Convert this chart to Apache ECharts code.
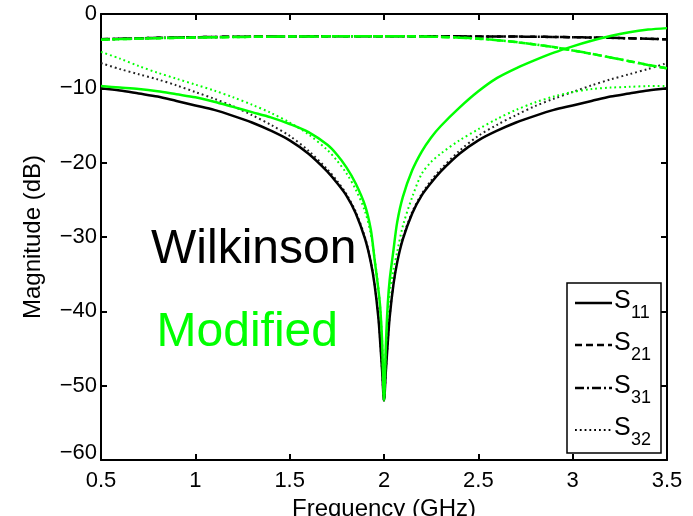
<!DOCTYPE html>
<html><head><meta charset="utf-8">
<script src="https://cdn.jsdelivr.net/npm/echarts@6/dist/echarts.min.js"></script>
<style>html,body{margin:0;padding:0;background:#fff}#c{width:693px;height:516px}</style>
</head><body><div id="c"></div>
<script>
// Frequency samples (GHz)
const freq = [0.5,0.6,0.7,0.8,0.9,1.0,1.1,1.2,1.3,1.4,1.5,1.6,1.7,1.75,1.8,1.85,1.9,1.93,1.95,1.97,1.98,1.99,2.0,
  2.01,2.02,2.03,2.05,2.07,2.1,2.15,2.2,2.25,2.3,2.4,2.5,2.6,2.7,2.8,2.9,3.0,3.1,3.2,3.3,3.4,3.5];

// Wilkinson (black)
const s11Wilkinson = [-10.0,-10.3,-10.7,-11.1,-11.7,-12.3,-12.9,-13.7,-14.6,-15.7,-17.0,-18.8,-21.2,-22.7,-24.4,-26.8,-30.3,-33.4,-36.4,-40.8,-44.2,-48.0,-52.0,
  -48.0,-44.2,-40.8,-36.4,-33.4,-30.3,-26.8,-24.4,-22.7,-21.2,-18.8,-17.0,-15.7,-14.6,-13.7,-12.9,-12.3,-11.7,-11.1,-10.7,-10.3,-10.0];
const s21Wilkinson = [-3.40,-3.33,-3.27,-3.21,-3.16,-3.12,-3.09,-3.06,-3.04,-3.03,-3.02,-3.01,-3.0,-3.0,-3.0,-3.0,-3.0,-3.0,-3.0,-3.0,-3.0,-3.0,-3.0,
  -3.0,-3.0,-3.0,-3.0,-3.0,-3.0,-3.0,-3.0,-3.0,-3.0,-3.01,-3.02,-3.03,-3.04,-3.06,-3.09,-3.12,-3.16,-3.21,-3.27,-3.33,-3.40];
const s31Wilkinson = [-3.40,-3.33,-3.27,-3.21,-3.16,-3.12,-3.09,-3.06,-3.04,-3.03,-3.02,-3.01,-3.0,-3.0,-3.0,-3.0,-3.0,-3.0,-3.0,-3.0,-3.0,-3.0,-3.0,
  -3.0,-3.0,-3.0,-3.0,-3.0,-3.0,-3.0,-3.0,-3.0,-3.0,-3.01,-3.02,-3.03,-3.04,-3.06,-3.09,-3.12,-3.16,-3.21,-3.27,-3.33,-3.40];
const s32Wilkinson = [-6.6,-7.4,-8.1,-8.8,-9.6,-10.5,-11.4,-12.4,-13.6,-14.9,-16.4,-18.4,-20.9,-22.4,-24.2,-26.6,-30.1,-33.3,-36.3,-40.7,-44.1,-48.0,-52.0,
  -48.0,-44.1,-40.7,-36.3,-33.3,-30.1,-26.6,-24.2,-22.4,-20.9,-18.4,-16.4,-14.9,-13.6,-12.4,-11.4,-10.5,-9.6,-8.8,-8.1,-7.4,-6.6];

// Modified (green)
const s11Modified = [-9.7,-9.9,-10.1,-10.4,-10.8,-11.2,-11.8,-12.5,-13.2,-13.9,-14.8,-15.9,-17.6,-18.9,-20.6,-22.8,-25.8,-29.0,-33.0,-37.0,-39.5,-44.0,-52.0,
  -44.5,-39.0,-35.8,-31.8,-28.0,-24.6,-21.0,-18.5,-16.6,-15.1,-12.6,-10.4,-8.6,-7.3,-6.2,-5.2,-4.35,-3.6,-2.95,-2.45,-2.1,-1.9];
const s21Modified = [-3.45,-3.38,-3.32,-3.26,-3.21,-3.17,-3.13,-3.10,-3.07,-3.05,-3.03,-3.02,-3.01,-3.0,-3.0,-3.0,-3.0,-3.0,-3.0,-3.0,-3.0,-3.0,-3.0,
  -3.0,-3.0,-3.0,-3.0,-3.0,-3.0,-3.01,-3.03,-3.05,-3.08,-3.18,-3.32,-3.52,-3.78,-4.10,-4.45,-4.90,-5.35,-5.85,-6.35,-6.85,-7.30];
const s31Modified = [-3.45,-3.38,-3.32,-3.26,-3.21,-3.17,-3.13,-3.10,-3.07,-3.05,-3.03,-3.02,-3.01,-3.0,-3.0,-3.0,-3.0,-3.0,-3.0,-3.0,-3.0,-3.0,-3.0,
  -3.0,-3.0,-3.0,-3.0,-3.0,-3.0,-3.01,-3.03,-3.05,-3.08,-3.18,-3.32,-3.52,-3.78,-4.10,-4.45,-4.90,-5.35,-5.85,-6.35,-6.85,-7.30];
const s32Modified = [-5.1,-6.0,-7.0,-7.9,-8.7,-9.5,-10.3,-11.2,-12.2,-13.3,-14.6,-16.2,-18.3,-19.7,-21.4,-23.6,-26.6,-29.6,-32.8,-36.8,-39.6,-44.0,-52.0,
  -45.0,-40.5,-37.5,-34.5,-32.0,-28.5,-24.6,-21.5,-19.9,-18.8,-17.0,-15.5,-14.1,-12.9,-11.9,-11.1,-10.5,-10.1,-9.9,-9.8,-9.7,-9.7];

const xTicks = [0.5,1,1.5,2,2.5,3,3.5];
const yTicks = [0,-10,-20,-30,-40,-50,-60];
const legendNames = ['11','21','31','32'];

const FONT = '"Liberation Sans", Arial, sans-serif';
const BLACK = '#000000', GREEN = '#00ff00';
const zip = v => freq.map((f, i) => [f, v[i]]);
const DASH = [7, 4], DASHDOT = [9, 3, 2, 3], DOT = [1.8, 3];

function mk(name, vals, color, type, width, z) {
  return { name, type: 'line', data: zip(vals), showSymbol: false, symbol: 'none',
    smooth: 0.3,
    xAxisIndex: 0, yAxisIndex: 0, z: z, animation: false,
    lineStyle: { color, width, type } };
}

const series = [
  mk('S21 W', s21Wilkinson, BLACK, DASH, 2.5, 2),
  mk('S31 W', s31Wilkinson, BLACK, DASHDOT, 2.5, 2),
  mk('S32 W', s32Wilkinson, '#222', DOT, 2, 2),
  mk('S11 W', s11Wilkinson, BLACK, 'solid', 2.5, 3),
  mk('S21 M', s21Modified, GREEN, DASH, 2.5, 4),
  mk('S31 M', s31Modified, GREEN, DASHDOT, 2.5, 4),
  mk('S32 M', s32Modified, GREEN, DOT, 2, 4),
  mk('S11 M', s11Modified, GREEN, 'solid', 2.5, 5)
];

const fmtNum = v => (v < 0 ? '\u2212' + (-v) : '' + v);

const axisCommon = {
  type: 'value', splitLine: { show: false },
  axisLine: { show: true, onZero: false, lineStyle: { color: '#000', width: 2 } },
  axisTick: { show: true, inside: true, length: 6, lineStyle: { color: '#000', width: 2 } }
};

// Legend (graphic elements)
const lgX = 567, lgTop = 283, lgW = 94, lgBottom = 453;
const lgY = [303, 345, 388, 430];
const lgTypes = ['solid', DASH, DASHDOT, DOT];
const lgWidths = [2.5, 2.5, 2.5, 1.8];
const graphics = [
  { type: 'rect', z: 100, shape: { x: lgX, y: lgTop, width: lgW, height: lgBottom - lgTop },
    style: { fill: '#fff', stroke: '#000', lineWidth: 1.5 } }
];
legendNames.forEach((n, i) => {
  graphics.push({ type: 'line', z: 101, shape: { x1: 575, y1: lgY[i], x2: 612, y2: lgY[i] },
    style: { stroke: '#000', lineWidth: lgWidths[i], lineDash: lgTypes[i] === 'solid' ? null : lgTypes[i] } });
  graphics.push({ type: 'text', z: 101, x: 614, y: lgY[i] - 2,
    style: { text: 'S', font: '25px ' + FONT, fill: '#000', verticalAlign: 'middle', align: 'left' } });
  graphics.push({ type: 'text', z: 101, x: 631, y: lgY[i] + 10,
    style: { text: n, font: '18px ' + FONT, fill: '#000', verticalAlign: 'middle', align: 'left' } });
});
graphics.push({ type: 'text', z: 50, x: 151, y: 250,
  style: { text: 'Wilkinson', font: '48px ' + FONT, fill: BLACK, verticalAlign: 'middle', align: 'left' } });
graphics.push({ type: 'text', z: 50, x: 338, y: 333,
  style: { text: 'Modified', font: '48px ' + FONT, fill: GREEN, verticalAlign: 'middle', align: 'right' } });

const option = {
  animation: false,
  backgroundColor: '#fff',
  grid: { left: 101, right: 26, top: 14, bottom: 56, containLabel: false, outerBoundsMode: 'none' },
  xAxis: [
    Object.assign({}, axisCommon, { min: 0.5, max: 3.5, interval: 0.5, position: 'bottom',
      name: 'Frequency (GHz)', nameLocation: 'middle', nameGap: 36,
      nameTextStyle: { fontFamily: FONT, fontSize: 24, color: '#000' },
      axisLabel: { show: true, margin: 10, fontFamily: FONT, fontSize: 22, color: '#000',
        formatter: v => (xTicks.indexOf(v) >= 0 ? String(v) : '') } }),
    Object.assign({}, axisCommon, { min: 0.5, max: 3.5, interval: 0.5, position: 'top',
      axisLabel: { show: false } })
  ],
  yAxis: [
    Object.assign({}, axisCommon, { min: -60, max: 0, interval: 10, position: 'left',
      name: 'Magnitude (dB)', nameLocation: 'middle', nameGap: 56,
      nameTextStyle: { fontFamily: FONT, fontSize: 24, color: '#000' },
      axisLabel: { show: true, margin: 4, fontFamily: FONT, fontSize: 22, color: '#000',
        formatter: v => (yTicks.indexOf(v) < 0 ? '' : (v === -60 ? '{low|' + fmtNum(v) + '}' : fmtNum(v))),
        rich: { low: { fontFamily: FONT, fontSize: 22, color: '#000', padding: [0, 0, 14, 0] } } } }),
    Object.assign({}, axisCommon, { min: -60, max: 0, interval: 10, position: 'right',
      axisLabel: { show: false } })
  ],
  series: series,
  graphic: graphics
};

const chart = echarts.init(document.getElementById('c'), null, { renderer: 'canvas' });
chart.setOption(option);
</script>
</body></html>
